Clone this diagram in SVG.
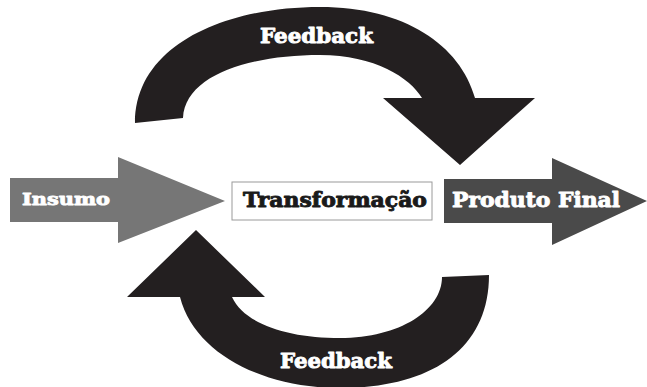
<svg xmlns="http://www.w3.org/2000/svg" width="647" height="387" viewBox="0 0 647 387">
<style>
.lbl{font-family:"DejaVu Serif","Liberation Serif",serif;font-weight:bold;stroke-width:0.9;stroke-linejoin:round;}
.white{fill:#ffffff;stroke:#ffffff;}
.dark{fill:#1a1a1a;stroke:#1a1a1a;}
.fb{fill:#231f20;}
</style>
<rect width="647" height="387" fill="#ffffff"/>
<g id="connectors">
  <g id="feedback-top">
    <path class="fb" d="M135,123 C135,45 225,7 320,7 C405,7 460,45 475,98 L535,98 L460,165 L383,98 L422,98 C410,78 375,55 320,55 C250,55 185,75 183,118 Z"/>
    <text class="lbl white" x="260" y="43" font-size="20.5" textLength="113" lengthAdjust="spacingAndGlyphs">Feedback</text>
  </g>
  <g id="feedback-bottom">
    <path class="fb" d="M196,230 L265,297 L232,297 C245,325 290,338 340,338 C400,338 442,310 442,277 L489,275 C489,350 430,388 340,388 C265,388 195,355 180,297 L127,297 Z"/>
    <text class="lbl white" x="280" y="368" font-size="20.5" textLength="112" lengthAdjust="spacingAndGlyphs">Feedback</text>
  </g>
</g>
<g id="insumo">
  <path fill="#767676" d="M10,178 L118,178 L118,157 L225,201 L118,243 L118,222 L10,222 Z"/>
  <text class="lbl white" x="22" y="205" font-size="17.5" textLength="88" lengthAdjust="spacingAndGlyphs">Insumo</text>
</g>
<g id="transformacao">
  <rect x="232" y="182" width="200" height="38" fill="#ffffff" stroke="#9a9a9a" stroke-width="1"/>
  <text class="lbl dark" x="243" y="207" font-size="20" textLength="184" lengthAdjust="spacingAndGlyphs">Transformação</text>
</g>
<g id="produto-final">
  <path fill="#4a4a4a" d="M444,179 L552,179 L552,158 L647,201 L552,245 L552,223 L444,223 Z"/>
  <text class="lbl white" x="452" y="207" font-size="19.5" textLength="168" lengthAdjust="spacingAndGlyphs">Produto Final</text>
</g>
</svg>
